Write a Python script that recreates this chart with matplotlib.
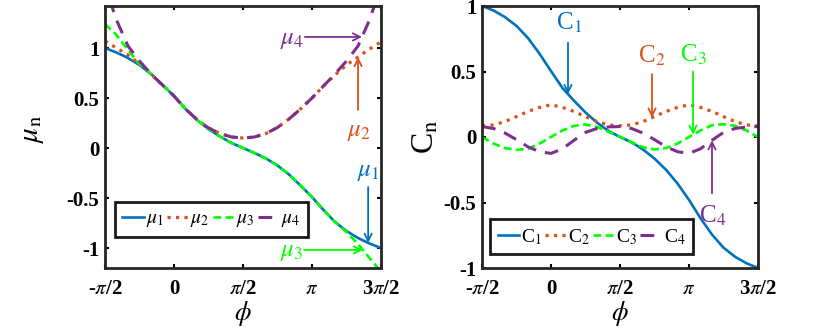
import numpy as np
import matplotlib
matplotlib.use('Agg')
import matplotlib.pyplot as plt

plt.rcParams['font.family'] = ['Liberation Serif', 'DejaVu Serif']
plt.rcParams['mathtext.fontset'] = 'stix'
plt.rcParams['axes.unicode_minus'] = False
plt.rcParams['xtick.direction'] = 'in'
plt.rcParams['ytick.direction'] = 'in'
plt.rcParams['xtick.top'] = True
plt.rcParams['ytick.right'] = True
plt.rcParams['xtick.major.size'] = 3
plt.rcParams['ytick.major.size'] = 3
plt.rcParams['xtick.major.width'] = 1.5
plt.rcParams['ytick.major.width'] = 1.5
plt.rcParams['axes.linewidth'] = 2.0
plt.rcParams['axes.edgecolor'] = '#262626'

# phase grid, steps of pi/12 from -pi/2 to 3pi/2
phi = np.linspace(-np.pi/2, 3*np.pi/2, 25)

# left panel: mu_n(phi)
mu1 = [1.00, 0.955, 0.90, 0.83, 0.74, 0.63, 0.52, 0.39, 0.28, 0.19, 0.115, 0.05, 0.00,
       -0.05, -0.105, -0.175, -0.265, -0.375, -0.49, -0.62, -0.74, -0.83, -0.90, -0.955, -1.00]
mu2 = [1.07, 1.00, 0.93, 0.84, 0.74, 0.63, 0.52, 0.39, 0.285, 0.20, 0.145, 0.11, 0.10,
       0.11, 0.145, 0.205, 0.29, 0.39, 0.50, 0.62, 0.73, 0.83, 0.91, 0.99, 1.06]
mu3 = [1.24, 1.13, 0.98, 0.84, 0.74, 0.63, 0.52, 0.39, 0.28, 0.19, 0.115, 0.05, 0.00,
       -0.05, -0.105, -0.175, -0.265, -0.375, -0.49, -0.62, -0.74, -0.84, -0.96, -1.10, -1.24]
mu4 = [1.62, 1.28, 1.02, 0.87, 0.74, 0.63, 0.52, 0.39, 0.285, 0.20, 0.145, 0.11, 0.10,
       0.11, 0.145, 0.205, 0.29, 0.39, 0.50, 0.62, 0.74, 0.87, 1.02, 1.28, 1.62]

# right panel: C_n(phi)
c1 = [1.00, 0.966, 0.915, 0.848, 0.755, 0.636, 0.503, 0.374, 0.277, 0.187, 0.11, 0.046, 0.00,
      -0.04, -0.095, -0.165, -0.25, -0.355, -0.48, -0.62, -0.745, -0.845, -0.914, -0.964, -1.00]
c2 = [0.085, 0.092, 0.118, 0.156, 0.195, 0.226, 0.246, 0.226, 0.195, 0.156, 0.118, 0.092, 0.085,
      0.092, 0.118, 0.156, 0.195, 0.226, 0.246, 0.226, 0.195, 0.156, 0.118, 0.092, 0.085]
c3 = [0.00, -0.05, -0.085, -0.098, -0.09, -0.05, 0.00, 0.05, 0.085, 0.095, 0.078, 0.04, 0.00,
      -0.04, -0.078, -0.095, -0.085, -0.05, 0.00, 0.05, 0.09, 0.098, 0.085, 0.05, 0.00]
c4 = [0.08, 0.065, 0.03, -0.02, -0.075, -0.112, -0.125, -0.09, -0.025, 0.035, 0.065, 0.077, 0.08,
      0.065, 0.03, -0.02, -0.075, -0.112, -0.125, -0.09, -0.025, 0.035, 0.065, 0.077, 0.08]

xtick_vals = [-np.pi/2, 0, np.pi/2, np.pi, 3*np.pi/2]
xtick_labels = [r'-$\pi$/2', '0', r'$\pi$/2', r'$\pi$', r'3$\pi$/2']
ytick_vals = [-1, -0.5, 0, 0.5, 1]
ytick_labels = ['-1', '-0.5', '0', '0.5', '1']

blue = '#0072BD'
orange = '#D95319'
green = '#00FF00'
purple = '#7E2F8E'
lw = 1.9

fig = plt.figure(figsize=(8.3, 3.3), dpi=100)
ax1 = fig.add_axes([105/830, 1-268/330, 276/830, 262/330])
ax2 = fig.add_axes([482/830, 1-268/330, 276/830, 262/330])

# ---- left panel
ax1.plot(phi, mu1, '-', color=blue, lw=lw, label=r'$\mu_1$')
ax1.plot(phi, mu2, ':', color=orange, lw=lw+0.4, label=r'$\mu_2$')
ax1.plot(phi, mu3, '--', color=green, lw=lw, dashes=(3, 1.6), label=r'$\mu_3$')
ax1.plot(phi, mu4, '--', color=purple, lw=lw+0.3, dashes=(4.5, 3), label=r'$\mu_4$')
ax1.set_xlim(-np.pi/2, 3*np.pi/2)
ax1.set_ylim(-1.2, 1.42)


def arrow(ax, tip, tail, color):
    ax.annotate('', xy=tip, xytext=tail,
                arrowprops=dict(arrowstyle='->', color=color, lw=1.3,
                                mutation_scale=13, shrinkA=0, shrinkB=0))


# horizontal arrows (mu_4, mu_3) and vertical ones (mu_2, mu_1)
p = 4.28
arrow(ax1, (p, np.interp(p, phi, mu4)), (2.98, np.interp(p, phi, mu4)), purple)
ax1.text(2.69, 1.08, r'$\mu_4$', color=purple, fontsize=18, ha='center', va='center')
p = 4.19
arrow(ax1, (p, np.interp(p, phi, mu2)), (p, 0.38), orange)
ax1.text(4.21, 0.16, r'$\mu_2$', color=orange, fontsize=18, ha='center', va='center')
p = 4.42
arrow(ax1, (p, np.interp(p, phi, mu1)), (p, -0.39), blue)
ax1.text(4.42, -0.24, r'$\mu_1$', color=blue, fontsize=18, ha='center', va='center')
p = 4.30
arrow(ax1, (p, np.interp(p, phi, mu3)), (2.96, np.interp(p, phi, mu3)), green)
ax1.text(2.69, -1.04, r'$\mu_3$', color=green, fontsize=18, ha='center', va='center')

ax1.set_ylabel(r'$\mu_{\rm n}$', fontsize=21)
ax1.yaxis.set_label_coords(-0.215, 0.53)

# ---- right panel
ax2.plot(phi, c1, '-', color=blue, lw=lw, label=r'C$_1$')
ax2.plot(phi, c2, ':', color=orange, lw=lw+0.4, label=r'C$_2$')
ax2.plot(phi, c3, '--', color=green, lw=lw, dashes=(3, 1.6), label=r'C$_3$')
ax2.plot(phi, c4, '--', color=purple, lw=lw+0.3, dashes=(4.5, 3), label=r'C$_4$')
ax2.set_xlim(-np.pi/2, 3*np.pi/2)
ax2.set_ylim(-1, 1)

p = 0.387
arrow(ax2, (p, np.interp(p, phi, c1)), (p, 0.72), blue)
ax2.text(0.41, 0.87, r'C$_1$', color=blue, fontsize=18, ha='center', va='center')
p = 2.30
arrow(ax2, (p, np.interp(p, phi, c2)), (p, 0.48), orange)
ax2.text(2.30, 0.62, r'C$_2$', color=orange, fontsize=18, ha='center', va='center')
p = 3.233
arrow(ax2, (p, np.interp(p, phi, c3)), (p, 0.50), green)
ax2.text(3.25, 0.63, r'C$_3$', color=green, fontsize=18, ha='center', va='center')
p = 3.665
arrow(ax2, (p, np.interp(p, phi, c4)), (p, -0.43), purple)
ax2.text(3.68, -0.60, r'C$_4$', color=purple, fontsize=18, ha='center', va='center')

ax2.set_ylabel(r'C$_{\rm n}$', fontsize=23)
ax2.yaxis.set_label_coords(-0.15, 0.5)

for ax, anchor in ((ax1, (0.035, 0.118)), (ax2, (0.03, 0.052))):
    ax.set_xticks(xtick_vals)
    ax.set_xticklabels(xtick_labels, fontsize=15, fontweight='bold')
    ax.set_yticks(ytick_vals)
    ax.set_yticklabels(ytick_labels, fontsize=15, fontweight='bold')
    ax.tick_params(axis='x', pad=8)
    ax.tick_params(axis='y', pad=4)
    ax.set_xlabel(r'$\phi$', fontsize=19, labelpad=0)
    leg = ax.legend(loc='lower left', bbox_to_anchor=anchor, ncol=4, fontsize=14,
                    handlelength=1.1, handletextpad=0.1, columnspacing=0.15,
                    borderpad=0.4, borderaxespad=0, fancybox=False, framealpha=1)
    leg.get_frame().set_edgecolor('#1a1a1a')
    leg.get_frame().set_linewidth(2.0)

fig.savefig('out.png', dpi=100)
